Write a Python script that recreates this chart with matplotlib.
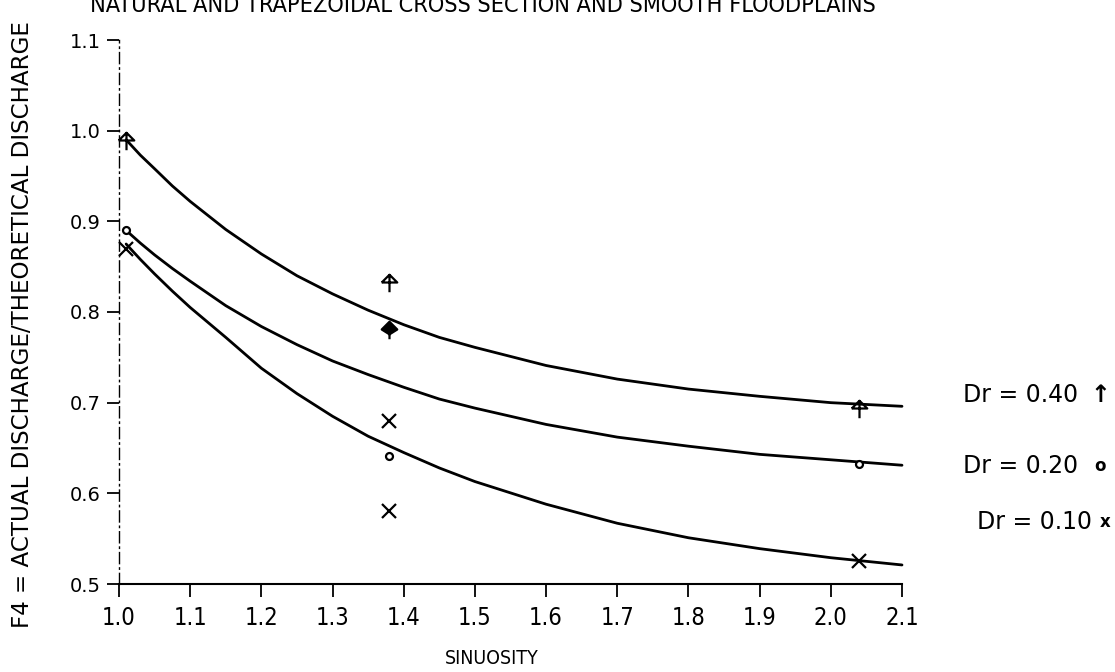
import matplotlib
matplotlib.use("Agg")
import matplotlib.pyplot as plt
from matplotlib.path import Path
from matplotlib import font_manager
from matplotlib.font_manager import FontProperties

# ---- data -------------------------------------------------------------
curve_x = [1.01, 1.03, 1.05, 1.075, 1.10, 1.15, 1.20, 1.25, 1.30, 1.35, 1.40,
           1.45, 1.50, 1.60, 1.70, 1.80, 1.90, 2.00, 2.10]
curve_dr40 = [0.990, 0.973, 0.958, 0.939, 0.922, 0.891, 0.864, 0.840, 0.820, 0.802,
              0.786, 0.772, 0.761, 0.741, 0.726, 0.715, 0.707, 0.700, 0.696]
curve_dr20 = [0.890, 0.876, 0.863, 0.848, 0.834, 0.807, 0.784, 0.764, 0.746, 0.731,
              0.717, 0.704, 0.694, 0.676, 0.662, 0.652, 0.643, 0.637, 0.631]
curve_dr10 = [0.875, 0.858, 0.842, 0.823, 0.805, 0.772, 0.738, 0.710, 0.685, 0.663,
              0.645, 0.628, 0.613, 0.588, 0.567, 0.551, 0.539, 0.529, 0.521]

pts_dr40_x = [1.01, 1.38, 2.04]
pts_dr40_y = [0.990, 0.833, 0.694]
pts_dr40_filled_x = [1.38]
pts_dr40_filled_y = [0.781]
pts_dr20_x = [1.01, 1.38, 2.04]
pts_dr20_y = [0.890, 0.641, 0.632]
pts_dr10_x = [1.01, 1.38, 1.38, 2.04]
pts_dr10_y = [0.870, 0.680, 0.580, 0.525]

x_ticks = [1.0, 1.1, 1.2, 1.3, 1.4, 1.5, 1.6, 1.7, 1.8, 1.9, 2.0, 2.1]
y_ticks = [0.5, 0.6, 0.7, 0.8, 0.9, 1.0, 1.1]
legend_labels = ["Dr = 0.40", "Dr = 0.20", "Dr = 0.10"]
legend_symbols = ["\u2191", "o", "x"]

title = "NATURAL AND TRAPEZOIDAL CROSS SECTION AND SMOOTH FLOODPLAINS"
ylabel = "F4 = ACTUAL DISCHARGE/THEORETICAL DISCHARGE"
xlabel = "SINUOSITY"


# ---- fonts ------------------------------------------------------------
def narrow_font_file():
    fl = font_manager.fontManager.ttflist
    plain = [f for f in fl if f.style == "normal" and f.weight in (400, "normal", "regular")]
    for f in plain:
        if f.name == "Liberation Sans Narrow":
            return f.fname
    for f in plain:
        if f.name == "DejaVu Sans" and "condensed" in str(f.stretch):
            return f.fname
    for f in plain:
        if "Condensed" in f.name or "Narrow" in f.name:
            return f.fname
    return None


nf = narrow_font_file()
def narrow(size):
    if nf:
        return FontProperties(fname=nf, size=size)
    return FontProperties(family="DejaVu Sans", size=size)

main = "DejaVu Sans"

W, H = 1115, 672
fig = plt.figure(figsize=(W / 100, H / 100), dpi=100)
fig.patch.set_facecolor("white")

# axes box in pixels: x 119..902, y 40..584 (top..bottom)
L, R, T, B = 119, 902, 40, 584
ax = fig.add_axes([L / W, 1 - B / H, (R - L) / W, (B - T) / H])
ax.set_xlim(1.0, 2.1)
ax.set_ylim(0.5, 1.1)

for s in ("top", "right"):
    ax.spines[s].set_visible(False)
ax.spines["left"].set_linestyle((0, (8, 3, 1, 3)))
ax.spines["left"].set_linewidth(1.0)
ax.spines["bottom"].set_linewidth(1.5)

ax.set_xticks(x_ticks)
ax.set_xticklabels([f"{v:.1f}" for v in x_ticks], fontproperties=narrow(17))
ax.set_yticks(y_ticks)
ax.set_yticklabels([f"{v:.1f}" for v in y_ticks], fontfamily=main, fontsize=14)
ax.tick_params(axis="x", direction="out", length=9, width=1.3, pad=7)
ax.tick_params(axis="y", direction="out", length=9, width=1.3, pad=4)

# fitted curves
kw = dict(color="black", lw=2.0, solid_capstyle="round", solid_joinstyle="round",
          clip_on=False)
ax.plot(curve_x, curve_dr40, **kw)
ax.plot(curve_x, curve_dr20, **kw)
ax.plot(curve_x, curve_dr10, **kw)

# arrow-head marker for Dr = 0.40
arrow = Path(
    [(-0.8, 0.0), (0.0, 0.8), (0.8, 0.0), (-0.8, 0.0), (0.0, 0.8), (0.0, -1.0)],
    [Path.MOVETO, Path.LINETO, Path.LINETO, Path.LINETO, Path.MOVETO, Path.LINETO],
)
ax.plot(pts_dr40_x, pts_dr40_y, ls="none", marker=arrow, ms=14, mfc="none",
        mec="black", mew=1.6, clip_on=False)
diamond = Path(
    [(0.0, 0.8), (0.8, 0.0), (0.0, -0.5), (-0.8, 0.0), (0.0, 0.8), (0.0, -0.5), (0.0, -1.0)],
    [Path.MOVETO, Path.LINETO, Path.LINETO, Path.LINETO, Path.CLOSEPOLY, Path.MOVETO, Path.LINETO],
)
ax.plot(pts_dr40_filled_x, pts_dr40_filled_y, ls="none", marker=diamond, ms=14,
        mfc="black", mec="black", mew=1.6, clip_on=False)
ax.plot(pts_dr20_x, pts_dr20_y, ls="none", marker="o", ms=5, mfc="white",
        mec="black", mew=1.6, clip_on=False)
ax.plot(pts_dr10_x, pts_dr10_y, ls="none", marker="x", ms=10, mec="black",
        mew=1.6, clip_on=False)

# series key on the right
key_rows = [(963, 395), (963, 466), (977, 522)]
sym_x = [1100, 1100, 1105]
sym_size = [17, 12, 12]
for (kx, ky), lab, sym, sx, ss in zip(key_rows, legend_labels, legend_symbols, sym_x, sym_size):
    fig.text(kx / W, 1 - ky / H, lab, fontfamily=main, fontsize=17,
             va="center", ha="left")
    fig.text(sx / W, 1 - ky / H, sym, fontfamily=main, fontsize=ss,
             fontweight="bold", va="center", ha="center")

# titles
fig.text(90 / W, 1 - 12 / H, title, fontproperties=narrow(16.8), ha="left",
         va="baseline")
fig.text(23 / W, 1 - 628 / H, ylabel, fontfamily=main, fontsize=16.6, rotation=90,
         ha="center", va="bottom")
fig.text(492 / W, 1 - 659 / H, xlabel, fontproperties=narrow(14), ha="center",
         va="center")

fig.savefig("out.png", dpi=100, facecolor="white")
